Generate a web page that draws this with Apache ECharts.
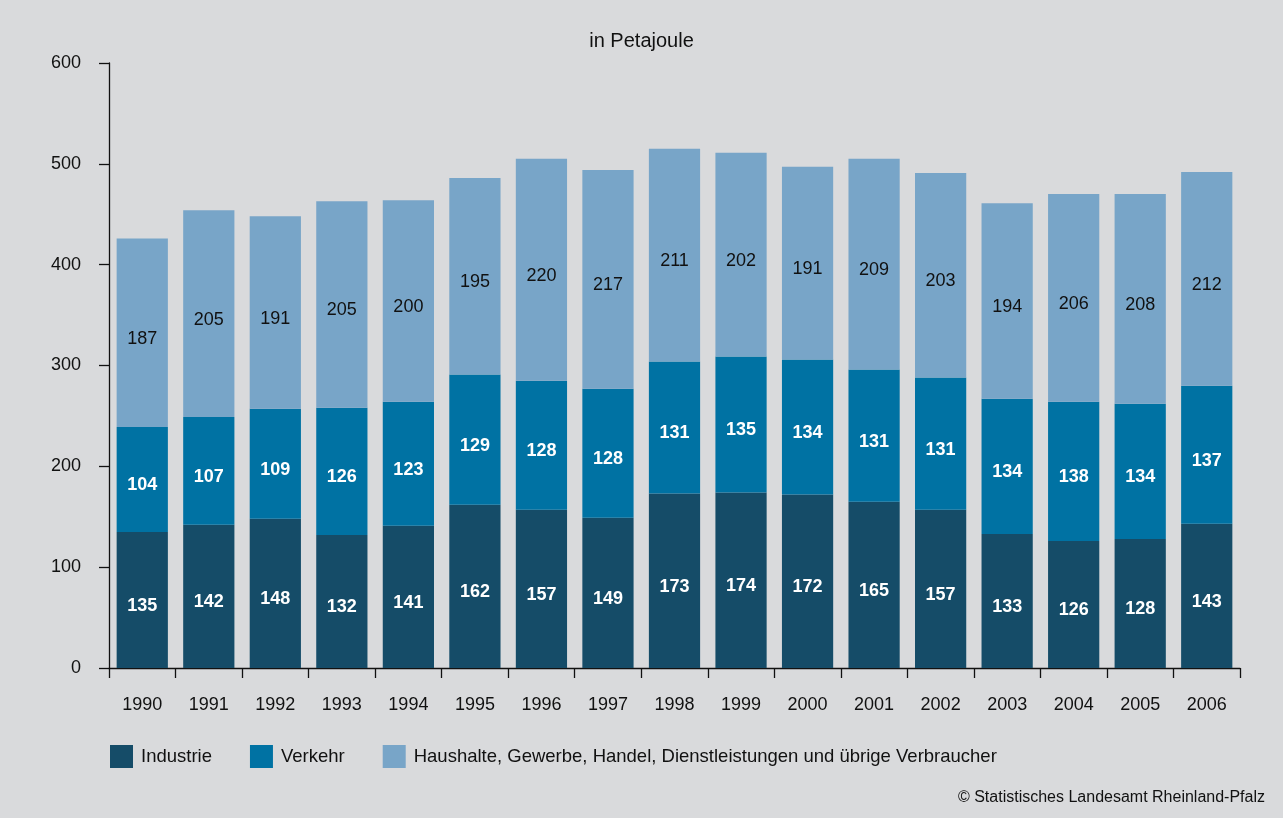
<!DOCTYPE html>
<html><head><meta charset="utf-8">
<script src="https://cdn.jsdelivr.net/npm/echarts@6/dist/echarts.min.js"></script>
<style>html,body{margin:0;padding:0;background:#d9dadc;}#c{width:1283px;height:818px;}</style>
</head><body><div id="c"></div>
<script>
const years = ['1990','1991','1992','1993','1994','1995','1996','1997','1998','1999','2000','2001','2002','2003','2004','2005','2006'];
const industrie = [135,142,148,132,141,162,157,149,173,174,172,165,157,133,126,128,143];
const verkehr = [104,107,109,126,123,129,128,128,131,135,134,131,131,134,138,134,137];
const haushalte = [187,205,191,205,200,195,220,217,211,202,191,209,203,194,206,208,212];
const seriesNames = ['Industrie','Verkehr','Haushalte, Gewerbe, Handel, Dienstleistungen und übrige Verbraucher'];
const yTicks = [0,100,200,300,400,500,600];

const font = '"Liberation Sans", Arial, sans-serif';
const chart = echarts.init(document.getElementById('c'));
function s(name, data, color, labelColor, bold) {
  return {
    name, type: 'bar', stack: 'total', data,
    barCategoryGap: '23%',
    itemStyle: { color },
    label: { show: true, position: 'inside', offset: [0, 6], color: labelColor, fontFamily: font, fontSize: 18, fontWeight: bold ? 'bold' : 'normal' }
  };
}
chart.setOption({
  backgroundColor: '#d9dadc',
  animation: false,
  title: { text: 'in Petajoule', left: 'center', top: 26, textStyle: { fontFamily: font, fontSize: 20, fontWeight: 'normal', color: '#111' } },
  graphic: [{ type: 'text', right: 18, top: 790, style: { text: '© Statistisches Landesamt Rheinland-Pfalz', font: '16px "Liberation Sans", Arial, sans-serif', fill: '#111' } }],
  legend: {
    left: 105, top: 740, itemWidth: 23, itemHeight: 23, itemGap: 38, icon: 'rect',
    textStyle: { fontFamily: font, fontSize: 18.5, color: '#111', padding: [0,0,0,3] },
    data: seriesNames
  },
  grid: { left: 109, right: 43, top: 63, bottom: 150 },
  xAxis: {
    type: 'category', data: years,
    axisLine: { lineStyle: { color: '#111', width: 1.3 } },
    axisTick: { show: true, length: 10, lineStyle: { color: '#111', width: 1.3 } },
    axisLabel: { margin: 28, fontFamily: font, fontSize: 18, color: '#111' }
  },
  yAxis: {
    type: 'value', min: 0, max: 600, interval: 100,
    axisLine: { show: true, lineStyle: { color: '#111', width: 1.3 } },
    axisTick: { show: true, length: 10, lineStyle: { color: '#111', width: 1.3 } },
    splitLine: { show: false },
    axisLabel: { margin: 28, fontFamily: font, fontSize: 18, color: '#111',
      formatter: v => yTicks.includes(v) ? String(v) : '' }
  },
  series: [
    s(seriesNames[0], industrie, '#154c68', '#fff', true),
    s(seriesNames[1], verkehr, '#0072a3', '#fff', true),
    s(seriesNames[2], haushalte, '#78a5c8', '#111', false)
  ]
});
</script></body></html>
